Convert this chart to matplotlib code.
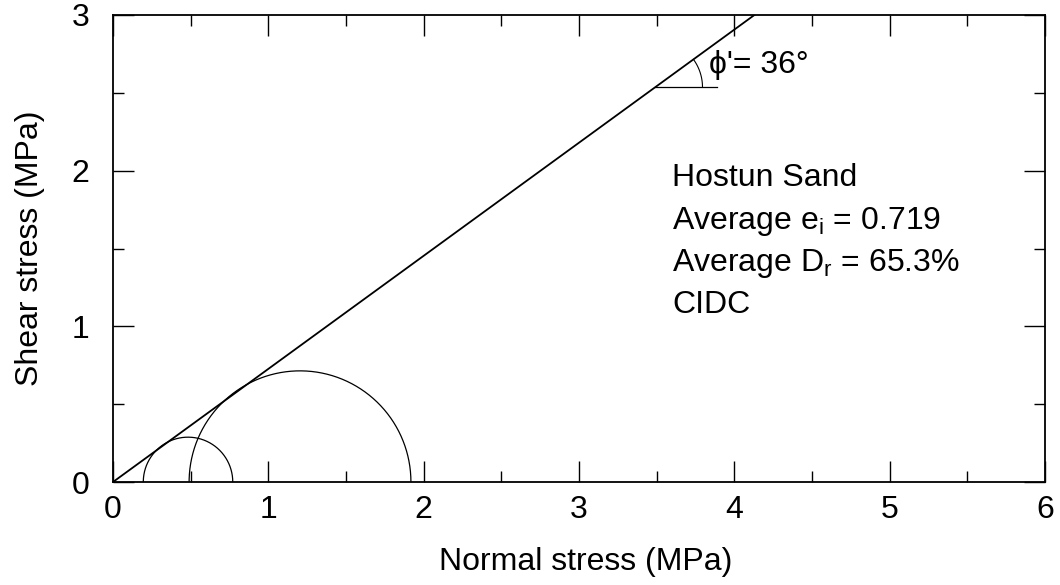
import matplotlib.pyplot as plt
import numpy as np

plt.rcParams['font.family'] = ['Liberation Sans', 'DejaVu Sans']
plt.rcParams['mathtext.fontset'] = 'custom'
plt.rcParams['mathtext.rm'] = 'Liberation Sans'

# Mohr circles (MPa)
sigma3 = [0.195, 0.49]
sigma1 = [0.771, 1.918]
phi_deg = 36.0

info_lines = ['Hostun Sand',
              'Average e$_\\mathrm{i}$ = 0.719',
              'Average D$_\\mathrm{r}$ = 65.3%',
              'CIDC']

fig = plt.figure(figsize=(10.6, 5.85), dpi=100)
ax = fig.add_axes([113 / 1060, 1 - 482 / 585, 932 / 1060, 467 / 585])

t = np.linspace(0, np.pi, 400)
for s3, s1 in zip(sigma3, sigma1):
    c = (s1 + s3) / 2
    r = (s1 - s3) / 2
    ax.plot(c + r * np.cos(t), r * np.sin(t), color='black', lw=0.9)

# failure envelope
slope = np.tan(np.radians(phi_deg))
xs = np.array([0, 6])
ax.plot(xs, slope * xs, color='black', lw=1.3)

# angle annotation
x0 = 3.49
y0 = slope * x0
ax.plot([x0, 3.887], [y0, y0], color='black', lw=0.9)
a = np.linspace(0, np.radians(phi_deg), 50)
ra = 0.305
ax.plot(x0 + ra * np.cos(a), y0 + ra * np.sin(a), color='black', lw=0.8)
ax.text(3.84, 2.68, "\u03d5'= 36\u00b0", fontsize=23, va='center', ha='left')

ys = [1.95, 1.675, 1.405, 1.14]
for s, y in zip(info_lines, ys):
    ax.text(3.6, y, s, fontsize=23, va='center', ha='left')

ax.set_xlim(0, 6)
ax.set_ylim(0, 3)
ax.set_xticks(range(0, 7))
ax.set_yticks(range(0, 4))
ax.set_xticks(np.arange(0.5, 6, 1), minor=True)
ax.set_yticks(np.arange(0.5, 3, 1), minor=True)
ax.tick_params(which='both', direction='in', top=True, right=True, width=1)
ax.tick_params(which='major', length=15, labelsize=23)
ax.tick_params(axis='x', which='major', pad=9)
ax.tick_params(axis='y', which='major', pad=17)
ax.tick_params(which='minor', length=8)
for sp in ax.spines.values():
    sp.set_linewidth(1.3)

ax.set_xlabel('Normal stress (MPa)', fontsize=23)
ax.set_ylabel('Shear stress (MPa)', fontsize=23, labelpad=19)
ax.xaxis.set_label_coords(0.507, -0.14)

fig.savefig('out.png', dpi=100)
